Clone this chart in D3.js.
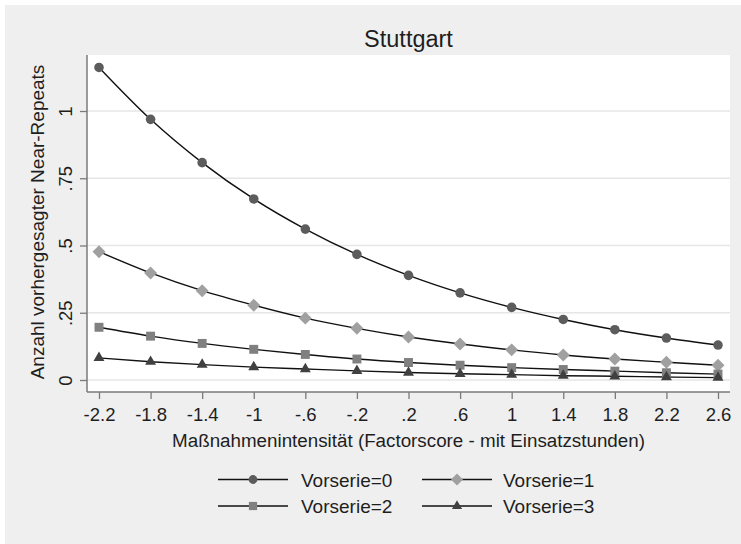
<!DOCTYPE html>
<html>
<head>
<meta charset="utf-8">
<script src="https://cdn.jsdelivr.net/npm/d3@7"></script>
<style>
  html, body { margin: 0; padding: 0; background: #ffffff; }
  svg { display: block; font-family: "Liberation Sans", Arial, sans-serif; }
</style>
</head>
<body>
<svg id="chart" width="741" height="544"></svg>
<script>
// Predicted near-repeats by intensity of measures, one line per prior-series count
const chartTitle = "Stuttgart";
const xTitle = "Maßnahmenintensität (Factorscore - mit Einsatzstunden)";
const yTitle = "Anzahl vorhergesagter Near-Repeats";

const intensity = [-2.2, -1.8, -1.4, -1, -0.6, -0.2, 0.2, 0.6, 1, 1.4, 1.8, 2.2, 2.6];
const xTickLabels = ["-2.2", "-1.8", "-1.4", "-1", "-.6", "-.2", ".2", ".6", "1", "1.4", "1.8", "2.2", "2.6"];
const yTickValues = [0, 0.25, 0.5, 0.75, 1];
const yTickLabels = ["0", ".25", ".5", ".75", "1"];

const vorserie0 = [1.162, 0.969, 0.808, 0.673, 0.561, 0.467, 0.389, 0.324, 0.270, 0.225, 0.187, 0.156, 0.130];
const vorserie1 = [0.477, 0.398, 0.332, 0.278, 0.230, 0.192, 0.160, 0.134, 0.112, 0.093, 0.078, 0.066, 0.055];
const vorserie2 = [0.196, 0.163, 0.136, 0.114, 0.095, 0.078, 0.065, 0.055, 0.046, 0.039, 0.033, 0.027, 0.022];
const vorserie3 = [0.082, 0.068, 0.057, 0.048, 0.041, 0.034, 0.028, 0.023, 0.020, 0.016, 0.014, 0.011, 0.009];

const seriesNames = ["Vorserie=0", "Vorserie=1", "Vorserie=2", "Vorserie=3"];
const seriesValues = [vorserie0, vorserie1, vorserie2, vorserie3];

const markerStyles = [
  { symbol: d3.symbolCircle, size: 72, rotate: 0, fill: "#5c5c5c" },
  { symbol: d3.symbolSquare, size: 84, rotate: 45, fill: "#a0a0a0" },
  { symbol: d3.symbolSquare, size: 80, rotate: 0, fill: "#808080" },
  { symbol: d3.symbolTriangle, size: 52, rotate: 0, fill: "#404040" }
];

const svg = d3.select("#chart");
const font = "\"Liberation Sans\", Arial, sans-serif";
const textColor = "#1e1e1e";

// Outer panel
svg.append("rect").attr("x", 0).attr("y", 0).attr("width", 741).attr("height", 544).attr("fill", "#ffffff");
svg.append("rect").attr("x", 5).attr("y", 5).attr("width", 736).attr("height", 539).attr("fill", "#efefef");

// Plot region
const plot = { left: 87, right: 730, top: 55, bottom: 392 };
svg.append("rect")
  .attr("x", plot.left).attr("y", plot.top)
  .attr("width", plot.right - plot.left).attr("height", plot.bottom - plot.top)
  .attr("fill", "#ffffff");

const x = d3.scaleLinear().domain([-2.2, 2.6]).range([99, 718]);
const y = d3.scaleLinear().domain([0, 1]).range([380, 111]);

// Horizontal gridlines
svg.append("g").selectAll("line").data(yTickValues).join("line")
  .attr("x1", plot.left).attr("x2", plot.right)
  .attr("y1", d => y(d)).attr("y2", d => y(d))
  .attr("stroke", "#e6e6e6").attr("stroke-width", 1.6);

// X axis
const xAxis = svg.append("g")
  .attr("transform", `translate(0,${plot.bottom})`)
  .call(d3.axisBottom(x).tickValues(intensity).tickFormat((d, i) => xTickLabels[i]).tickSize(7).tickPadding(6));
xAxis.select(".domain").remove();
xAxis.selectAll(".tick line").attr("stroke", "#7a7a7a").attr("stroke-width", 1.3);
xAxis.selectAll(".tick text").attr("fill", textColor).attr("font-size", 18.5).attr("font-family", font)
  .attr("dy", null).attr("y", 29);

// Y axis
const yAxis = svg.append("g")
  .attr("transform", `translate(${plot.left},0)`)
  .call(d3.axisLeft(y).tickValues(yTickValues).tickFormat((d, i) => yTickLabels[i]).tickSize(7));
yAxis.select(".domain").remove();
yAxis.selectAll(".tick line").attr("stroke", "#7a7a7a").attr("stroke-width", 1.3);
yAxis.selectAll(".tick text")
  .attr("fill", textColor).attr("font-size", 18.5).attr("font-family", font)
  .attr("x", null).attr("dy", null)
  .attr("text-anchor", "middle")
  .attr("transform", "translate(-15,0) rotate(-90)");

// Axis lines
svg.append("line").attr("x1", plot.left).attr("x2", plot.left).attr("y1", plot.top).attr("y2", plot.bottom)
  .attr("stroke", "#7a7a7a").attr("stroke-width", 1.5);
svg.append("line").attr("x1", plot.left).attr("x2", plot.right).attr("y1", plot.bottom).attr("y2", plot.bottom)
  .attr("stroke", "#7a7a7a").attr("stroke-width", 1.5);

// Series lines and markers
const line = d3.line().x((d, i) => x(intensity[i])).y(d => y(d)).curve(d3.curveMonotoneX);
const markerPath = (s, scale) => d3.symbol().type(s.symbol).size(s.size * (scale || 1))();

seriesValues.forEach((vals, k) => {
  svg.append("path").datum(vals)
    .attr("d", line).attr("fill", "none")
    .attr("stroke", "#111111").attr("stroke-width", 1.4);
});
seriesValues.forEach((vals, k) => {
  const s = markerStyles[k];
  svg.append("g").selectAll("path").data(vals).join("path")
    .attr("d", markerPath(s))
    .attr("transform", (d, i) => `translate(${x(intensity[i])},${y(d)}) rotate(${s.rotate})`)
    .attr("fill", s.fill);
});

// Titles
svg.append("text").attr("x", 408.5).attr("y", 47).attr("text-anchor", "middle")
  .attr("font-size", 23.5).attr("fill", textColor).attr("font-family", font).text(chartTitle);
svg.append("text").attr("x", 408.5).attr("y", 447).attr("text-anchor", "middle")
  .attr("font-size", 18.8).attr("fill", textColor).attr("font-family", font).text(xTitle);
svg.append("text").attr("transform", "translate(44,222) rotate(-90)").attr("text-anchor", "middle")
  .attr("font-size", 19).attr("fill", textColor).attr("font-family", font).text(yTitle);

// Legend
const legendCols = [{ x1: 218, x2: 288, text: 301 }, { x1: 422, x2: 492, text: 503 }];
const legendRows = [479.5, 506];
seriesNames.forEach((name, k) => {
  const col = legendCols[k % 2];
  const ry = legendRows[Math.floor(k / 2)];
  const g = svg.append("g");
  g.append("line").attr("x1", col.x1).attr("x2", col.x2).attr("y1", ry).attr("y2", ry)
    .attr("stroke", "#111111").attr("stroke-width", 1.5);
  const s = markerStyles[k];
  g.append("path").attr("d", markerPath(s, 0.85))
    .attr("transform", `translate(${(col.x1 + col.x2) / 2},${ry}) rotate(${s.rotate})`)
    .attr("fill", s.fill);
  g.append("text").attr("x", col.text).attr("y", ry + 7).attr("font-size", 19)
    .attr("fill", textColor).attr("font-family", font).text(name);
});
</script>
</body>
</html>
